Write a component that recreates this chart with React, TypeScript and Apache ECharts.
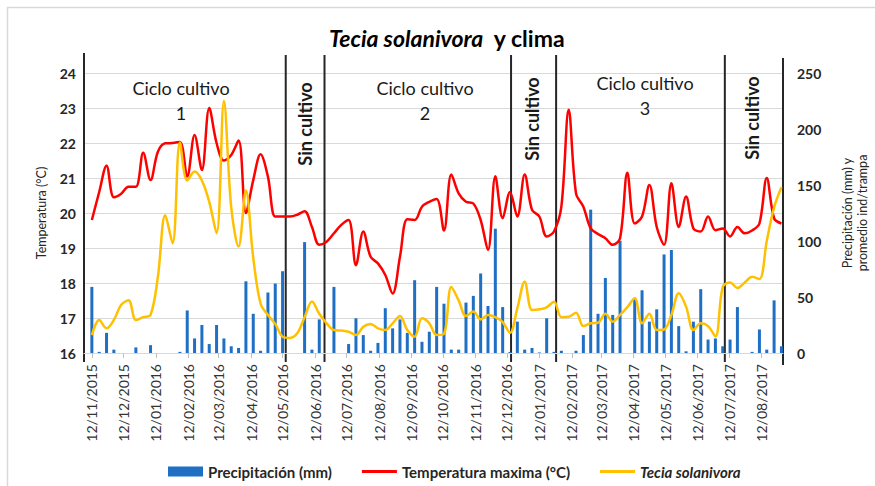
import React, { useEffect, useRef } from 'react';
import * as echarts from 'echarts';

// Weekly observations starting 12/11/2015
const precipitacion = [
  59, 1, 18, 3, 0, 0, 5, 0, 7, 0,
  0, 0, 1, 38, 13, 25, 8, 25, 13, 6,
  4.5, 64, 35, 2, 54, 62, 73, 0, 0, 99,
  3, 30, 0, 59, 0, 8, 31, 16, 2, 9,
  40, 22, 30, 18, 65, 10, 19, 59, 44, 3,
  3, 45, 51, 71, 42, 111, 41, 1, 28, 3,
  4.5, 0.5, 31, 1, 2, 0, 2, 16, 128, 35,
  67, 34, 100, 0, 48, 56, 28, 39, 88, 92,
  24, 1.5, 28, 57, 12, 13, 6, 12, 41, 0,
  1, 21, 3, 47, 6,
];

const temperaturaMax = [
  19.8, 20.6, 21.35, 20.45, 20.55, 20.75, 20.75, 21.72, 20.94, 21.75,
  21.99, 22.0, 22.03, 21.04, 22.23, 21.23, 23.0, 22.0, 21.5, 21.66,
  22.07, 20.0, 20.94, 21.68, 21.04, 19.9, 19.9, 19.9, 19.95, 20.05,
  19.6, 19.09, 19.18, 19.42, 19.66, 19.8, 18.51, 19.47, 18.75, 18.56,
  18.23, 17.7, 18.75, 19.82, 19.8, 20.18, 20.32, 20.4, 19.5, 21.1,
  20.56, 20.32, 20.27, 19.8, 18.94, 21.05, 19.85, 20.6, 19.9, 21.1,
  20.09, 19.9, 19.33, 19.47, 20.18, 22.95, 20.56, 20.18, 19.56, 19.4,
  19.28, 19.09, 19.28, 21.15, 19.7, 19.9, 20.8, 19.6, 19.09, 20.85,
  19.6, 20.47, 19.56, 19.47, 19.9, 19.51, 19.56, 19.33, 19.6, 19.42,
  19.5, 19.7, 21.0, 19.85, 19.7,
];

const teciaSolanivora = [
  16, 29.5, 22, 29.5, 43, 47, 29.5, 32, 34, 68,
  123, 98, 188, 154, 162, 154, 135, 107, 225, 130,
  95, 145, 85, 44, 34, 26, 14.6, 13.5, 17.6, 32,
  46, 35, 26.5, 20.5, 20, 19, 16, 23.5, 26, 22,
  20.5, 26.5, 33, 20.5, 14.6, 31, 26.5, 16, 17, 59,
  47, 33, 37, 30, 34, 32, 27.5, 18, 40, 63.7,
  38.4, 39, 40.8, 45.8, 32, 32.4, 36, 24, 26.5, 27,
  35, 28, 34, 41, 48.8, 26.5, 35, 20.5, 21, 34,
  53.3, 41.4, 20.5, 26.5, 24, 14.8, 59, 63, 58, 63,
  68, 66, 100, 130, 148,
];

const separadores = ['15/05/2016', '21/06/2016', '16/12/2016', '28/01/2017', '08/07/2017'];
const tempTicks = [16, 24, 1];
const precTicks = [0, 250, 50];

const DAY = 86400000;
function fmt(d: Date) {
  const dd = String(d.getUTCDate()).padStart(2, '0');
  const mm = String(d.getUTCMonth() + 1).padStart(2, '0');
  return `${dd}/${mm}/${d.getUTCFullYear()}`;
}
const dayCats: string[] = [];
for (let t = Date.UTC(2015, 10, 5); t <= Date.UTC(2017, 8, 1); t += DAY) dayCats.push(fmt(new Date(t)));
const weekDates = precipitacion.map((_, i) => fmt(new Date(Date.UTC(2015, 10, 12) + i * 7 * DAY)));

const FONT = 'Lato, "Open Sans", sans-serif';
const isMonthTick = (_i: number, v: string) => v.startsWith('12/');
const LINE_ICON = 'path://M0,0L35,0L35,3L0,3Z';

export default function App() {
  const ref = useRef<HTMLDivElement>(null);
  useEffect(() => {
    if (!ref.current) return;
    const chart = echarts.init(ref.current, undefined, { renderer: 'svg' });
    const option: any = {
      animation: false,
      backgroundColor: '#ffffff',
      textStyle: { fontFamily: FONT },
      title: {
        text: '{i|Tecia solanivora}{n|  y clima}',
        left: 324,
        top: 21,
        textStyle: {
          rich: {
            i: { fontFamily: FONT, fontStyle: 'italic', fontWeight: 'bold', fontSize: 23, color: '#000' },
            n: { fontFamily: FONT, fontWeight: 'bold', fontSize: 23, color: '#000' },
          },
        },
      },
      legend: {
        left: 163,
        top: 459,
        itemWidth: 35,
        itemHeight: 10,
        itemGap: 30,
        symbolKeepAspect: true,
        textStyle: { fontFamily: FONT, fontWeight: 'bold', fontSize: 15, color: '#262626' },
        data: [
          { name: 'Precipitación (mm)', icon: 'rect' },
          { name: 'Temperatura maxima (°C)', icon: LINE_ICON },
          { name: 'Tecia solanivora', icon: LINE_ICON, textStyle: { fontStyle: 'italic' } },
        ],
      },
      grid: { left: 84, right: 92, top: 73, bottom: 133, containLabel: false, outerBoundsMode: 'none' },
      xAxis: {
        type: 'category',
        data: dayCats,
        boundaryGap: true,
        axisLine: { lineStyle: { color: '#d9d9d9' } },
        axisTick: { show: true, interval: isMonthTick, alignWithLabel: true, length: 5, lineStyle: { color: '#bfbfbf' } },
        axisLabel: { interval: isMonthTick, rotate: 90, fontSize: 14, color: '#333333', margin: 11, fontFamily: FONT },
        splitLine: { show: false },
      },
      yAxis: [
        {
          type: 'value',
          min: tempTicks[0],
          max: tempTicks[1],
          interval: tempTicks[2],
          position: 'left',
          name: 'Temperatura (°C)',
          nameLocation: 'middle',
          nameGap: 36,
          nameTextStyle: { fontSize: 12.5, color: '#262626', fontFamily: FONT },
          axisLine: { show: false },
          axisTick: { show: false },
          axisLabel: { fontSize: 14, fontWeight: 'bold', color: '#262626', margin: 8, fontFamily: FONT },
          splitLine: { lineStyle: { color: '#d9d9d9', width: 1 } },
        },
        {
          type: 'value',
          min: precTicks[0],
          max: precTicks[1],
          interval: precTicks[2],
          position: 'right',
          name: 'Precipitación (mm) y\npromedio ind/trampa',
          nameLocation: 'middle',
          nameGap: 57,
          nameTextStyle: { fontSize: 12.5, color: '#262626', fontFamily: FONT, lineHeight: 15 },
          axisLine: { show: false },
          axisTick: { show: false },
          axisLabel: { fontSize: 14, fontWeight: 'bold', color: '#262626', margin: 14, fontFamily: FONT },
          splitLine: { show: false },
        },
      ],
      series: [
        {
          name: 'Precipitación (mm)',
          type: 'bar',
          yAxisIndex: 1,
          barWidth: 3,
          itemStyle: { color: '#1f6fc5' },
          data: precipitacion.map((v, i) => [weekDates[i], v]),
        },
        {
          name: 'Temperatura maxima (°C)',
          type: 'line',
          yAxisIndex: 0,
          smooth: 0.35,
          symbol: 'none',
          lineStyle: { color: '#ff0000', width: 2.5 },
          itemStyle: { color: '#ff0000' },
          data: temperaturaMax.map((v, i) => [weekDates[i], v]),
        },
        {
          name: 'Tecia solanivora',
          type: 'line',
          yAxisIndex: 1,
          smooth: 0.35,
          symbol: 'none',
          lineStyle: { color: '#ffc000', width: 2.5 },
          itemStyle: { color: '#ffc000' },
          data: teciaSolanivora.map((v, i) => [weekDates[i], v]),
        },
      ],
    };
    chart.setOption(option);

    const sepXs = separadores.map((d) => chart.convertToPixel({ xAxisIndex: 0 }, d) as number);
    const lineStyle = { stroke: '#262626', lineWidth: 2 };
    const textStyle = { fill: '#1a1a1a', fontFamily: FONT, fontSize: 18 };
    const graphics: any[] = [
      { type: 'rect', shape: { x: 7.5, y: 7.5, width: 880, height: 500 }, style: { fill: 'none', stroke: '#d9d9d9', lineWidth: 1.5 }, silent: true },
      { type: 'line', shape: { x1: 84, y1: 53, x2: 84, y2: 362 }, style: lineStyle },
      { type: 'line', shape: { x1: 783, y1: 58, x2: 783, y2: 365 }, style: lineStyle },
      ...sepXs.map((x) => ({ type: 'line', shape: { x1: x, y1: 55, x2: x, y2: 362 }, style: lineStyle })),
      { type: 'text', x: 181, y: 100.5, style: { ...textStyle, text: 'Ciclo cultivo\n1', textAlign: 'center', textVerticalAlign: 'middle', lineHeight: 25 } },
      { type: 'text', x: 425, y: 100.5, style: { ...textStyle, text: 'Ciclo cultivo\n2', textAlign: 'center', textVerticalAlign: 'middle', lineHeight: 25 } },
      { type: 'text', x: 645, y: 95, style: { ...textStyle, text: 'Ciclo cultivo\n3', textAlign: 'center', textVerticalAlign: 'middle', lineHeight: 25 } },
      { type: 'text', x: 305, y: 124, rotation: Math.PI / 2, style: { ...textStyle, fontWeight: 'bold', text: 'Sin cultivo', textAlign: 'center', textVerticalAlign: 'middle' } },
      { type: 'text', x: 532, y: 119, rotation: Math.PI / 2, style: { ...textStyle, fontWeight: 'bold', text: 'Sin cultivo', textAlign: 'center', textVerticalAlign: 'middle' } },
      { type: 'text', x: 752, y: 118, rotation: Math.PI / 2, style: { ...textStyle, fontWeight: 'bold', text: 'Sin cultivo', textAlign: 'center', textVerticalAlign: 'middle' } },
    ];
    chart.setOption({ graphic: graphics });
    return () => chart.dispose();
  }, []);
  return <div ref={ref} style={{ position: 'absolute', left: 0, top: 0, width: 875, height: 486 }} />;
}
